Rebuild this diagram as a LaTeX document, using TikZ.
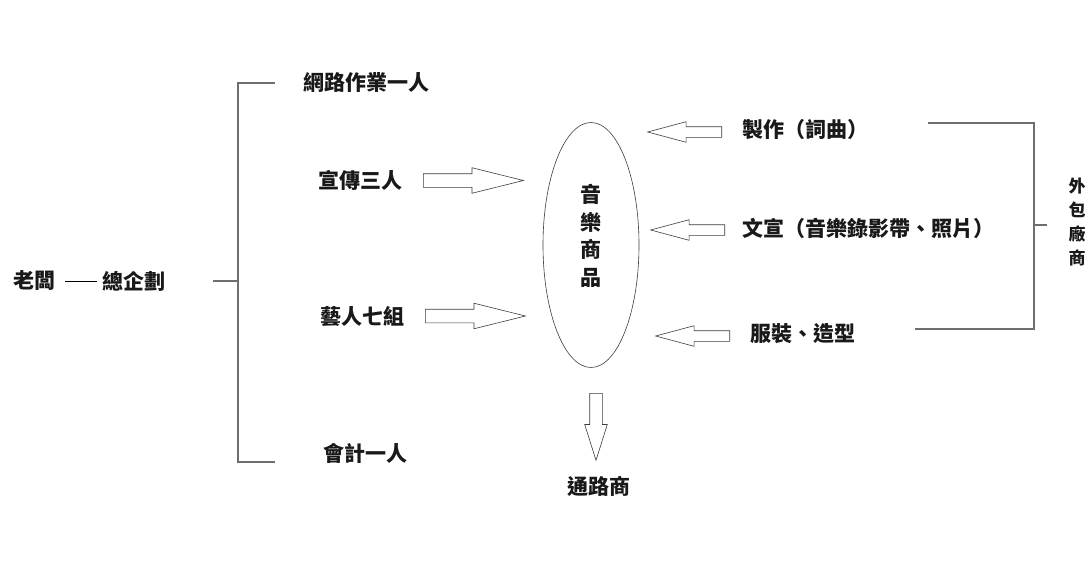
\documentclass[tikz,border=0pt]{standalone}
\usepackage{fontspec}
\newfontfamily\cjk{Noto Sans CJK TC}
\usetikzlibrary{shapes.geometric,shapes.arrows}
\definecolor{brkgray}{RGB}{110,110,110}
\definecolor{arrgray}{RGB}{60,60,60}

\begin{document}
\begin{tikzpicture}[x=1pt, y=-1pt,
    lbl/.style={inner sep=0pt, anchor=west, text=black!90, font=\cjk\bfseries\fontsize{21}{21}\selectfont},
    vlbl/.style 2 args={inner sep=0pt, align=center, text=black!90, font=\cjk\bfseries\fontsize{#1}{#2}\selectfont},
    brk/.style={draw=brkgray, line width=1.3pt},
    blk/.style={single arrow, draw=arrgray, line width=0.6pt, inner xsep=0pt, minimum width=0pt, anchor=tail},
    larr/.style={blk, inner ysep=6.5pt, single arrow head extend=6pt, minimum height=100pt, single arrow tip angle=28},
    rarr/.style={blk, rotate=180, inner ysep=5pt, single arrow head extend=5pt, minimum height=74pt, single arrow tip angle=30},
    darr/.style={blk, rotate=-90, inner ysep=6pt, single arrow head extend=5pt, minimum height=67pt, single arrow tip angle=35}]

    \fill[white] (0,0) rectangle (1092,562);
    \useasboundingbox (0,0) rectangle (1092,562);

    \node[lbl] (boss) at (13,281) {老闆};
    \node[lbl] (plan) at (102,281) {總企劃};
    \draw[line width=1pt, shorten <=10pt, shorten >=5pt] (boss) -- (plan);

    \node[lbl] (net) at (303,83) {網路作業一人};
    \node[lbl] (promo) at (318,180) {宣傳三人};
    \node[lbl] (artist) at (320,316) {藝人七組};
    \node[lbl] (acct) at (323,453) {會計一人};

    \coordinate (lmid) at (213,281);
    \draw[brk] (lmid) -- (238,281);
    \draw[brk] (275,83) -- (238,83) -- (238,462) -- (275,462);

    \node[draw=arrgray, line width=0.6pt, ellipse, minimum width=96pt, minimum height=245pt, inner sep=0pt] (goods) at (591,245) {};
    \node[vlbl={21}{27.5}] (goodstxt) at (591,236) {音\\樂\\商\\品};

    \node[larr] (promoarr) at (423,180.5) {};
    \node[larr] (artistarr) at (425,316) {};

    \node[lbl] (make) at (742,130) {製作（詞曲）};
    \node[lbl] (copy) at (742,228) {文宣（音樂錄影帶、照片）};
    \node[lbl] (style) at (750,334) {服裝、造型};

    \node[rarr] (makearr) at (722,132) {};
    \node[rarr] (copyarr) at (725,230) {};
    \node[rarr] (stylearr) at (730,336) {};

    \draw[brk] (928,123) -- (1034,123) -- (1034,329) -- (915,329);
    \coordinate (rmid) at (1047,225);
    \draw[brk] (1034,225) -- (rmid);
    \node[vlbl={17}{24}] (outs) at (1077,222) {外\\包\\廠\\商};

    \node[darr] (chanarr) at (596,393) {};
    \node[lbl, anchor=center] (chan) at (599,486) {通路商};

\end{tikzpicture}
\end{document}
